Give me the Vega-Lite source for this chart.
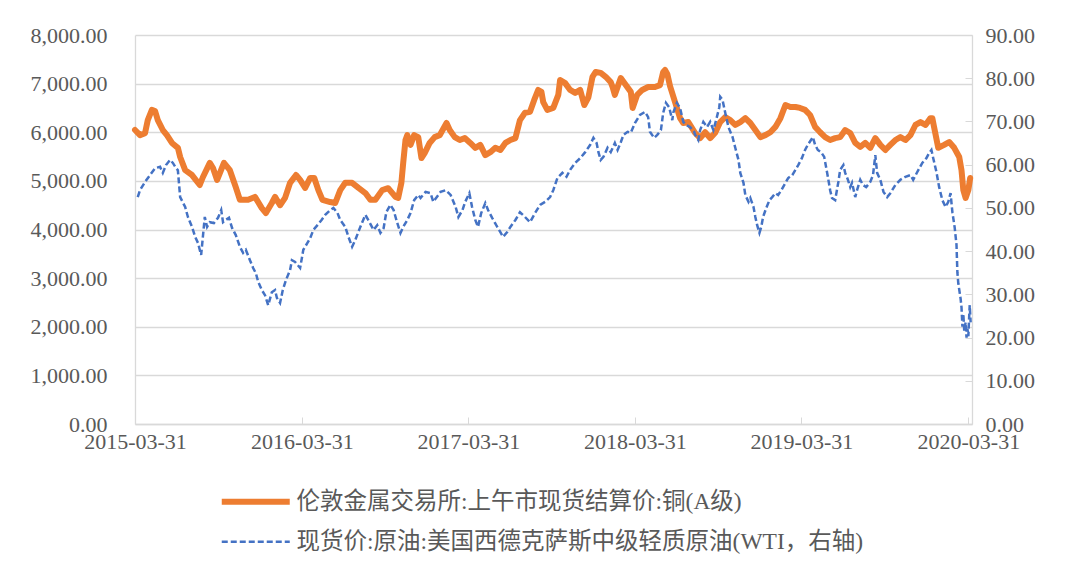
{
  "$schema": "https://vega.github.io/schema/vega-lite/v6.json",
  "width": 837,
  "height": 389,
  "autosize": {"type": "none"},
  "padding": {"left": 135, "top": 35, "right": 108, "bottom": 152},
  "background": "white",
  "config": {
    "view": {"stroke": null},
    "axis": {
      "labelFont": "Liberation Serif",
      "labelFontSize": 22,
      "labelColor": "#595959",
      "domainColor": "#d9d9d9",
      "tickColor": "#d9d9d9",
      "gridColor": "#d9d9d9",
      "domainWidth": 1.3,
      "title": null
    }
  },
  "datasets": {
    "copper": [
      {"d":"2015-03-31","v":6046},{"d":"2015-04-11","v":5940},{"d":"2015-04-22","v":5980},{"d":"2015-04-28","v":6250},
      {"d":"2015-05-07","v":6460},{"d":"2015-05-14","v":6437},{"d":"2015-05-20","v":6250},{"d":"2015-05-31","v":6046},
      {"d":"2015-06-09","v":5940},{"d":"2015-06-20","v":5780},{"d":"2015-07-03","v":5680},{"d":"2015-07-08","v":5490},
      {"d":"2015-07-19","v":5220},{"d":"2015-08-03","v":5120},{"d":"2015-08-20","v":4915},{"d":"2015-08-27","v":5080},
      {"d":"2015-09-11","v":5370},{"d":"2015-09-18","v":5265},{"d":"2015-09-27","v":5020},{"d":"2015-10-03","v":5160},
      {"d":"2015-10-12","v":5370},{"d":"2015-10-25","v":5220},{"d":"2015-11-07","v":4870},{"d":"2015-11-16","v":4610},
      {"d":"2015-12-04","v":4610},{"d":"2015-12-19","v":4670},{"d":"2016-01-03","v":4440},{"d":"2016-01-12","v":4340},
      {"d":"2016-01-25","v":4545},{"d":"2016-02-01","v":4670},{"d":"2016-02-12","v":4500},{"d":"2016-02-23","v":4650},
      {"d":"2016-03-05","v":4960},{"d":"2016-03-18","v":5120},{"d":"2016-03-27","v":5020},{"d":"2016-04-07","v":4855},
      {"d":"2016-04-18","v":5060},{"d":"2016-04-27","v":5060},{"d":"2016-05-06","v":4810},{"d":"2016-05-15","v":4610},
      {"d":"2016-06-01","v":4565},{"d":"2016-06-12","v":4545},{"d":"2016-06-23","v":4810},{"d":"2016-07-04","v":4960},
      {"d":"2016-07-19","v":4960},{"d":"2016-08-02","v":4855},{"d":"2016-08-17","v":4750},{"d":"2016-08-28","v":4610},
      {"d":"2016-09-08","v":4610},{"d":"2016-09-23","v":4810},{"d":"2016-10-06","v":4850},{"d":"2016-10-22","v":4670},
      {"d":"2016-10-28","v":4650},{"d":"2016-11-04","v":4960},{"d":"2016-11-08","v":5370},{"d":"2016-11-13","v":5840},
      {"d":"2016-11-17","v":5940},{"d":"2016-11-24","v":5740},{"d":"2016-12-02","v":5940},{"d":"2016-12-11","v":5900},
      {"d":"2016-12-18","v":5470},{"d":"2016-12-25","v":5570},{"d":"2017-01-05","v":5780},{"d":"2017-01-16","v":5900},
      {"d":"2017-01-27","v":5940},{"d":"2017-02-11","v":6190},{"d":"2017-02-18","v":6046},{"d":"2017-03-01","v":5900},
      {"d":"2017-03-12","v":5840},{"d":"2017-03-23","v":5880},{"d":"2017-04-04","v":5780},{"d":"2017-04-15","v":5680},
      {"d":"2017-04-26","v":5740},{"d":"2017-05-07","v":5530},{"d":"2017-05-18","v":5590},{"d":"2017-05-29","v":5680},
      {"d":"2017-06-09","v":5635},{"d":"2017-06-20","v":5780},{"d":"2017-07-01","v":5840},{"d":"2017-07-12","v":5880},
      {"d":"2017-07-22","v":6250},{"d":"2017-08-02","v":6400},{"d":"2017-08-13","v":6420},{"d":"2017-08-22","v":6660},
      {"d":"2017-08-31","v":6870},{"d":"2017-09-07","v":6830},{"d":"2017-09-11","v":6620},{"d":"2017-09-20","v":6460},
      {"d":"2017-10-03","v":6500},{"d":"2017-10-14","v":6770},{"d":"2017-10-18","v":7075},{"d":"2017-10-29","v":7010},
      {"d":"2017-11-09","v":6870},{"d":"2017-11-20","v":6810},{"d":"2017-12-01","v":6870},{"d":"2017-12-10","v":6560},
      {"d":"2017-12-19","v":6720},{"d":"2017-12-28","v":7140},{"d":"2018-01-04","v":7240},{"d":"2018-01-15","v":7220},
      {"d":"2018-01-26","v":7140},{"d":"2018-02-06","v":7030},{"d":"2018-02-10","v":6930},{"d":"2018-02-15","v":6770},
      {"d":"2018-02-21","v":6930},{"d":"2018-02-28","v":7115},{"d":"2018-03-11","v":6970},{"d":"2018-03-22","v":6830},
      {"d":"2018-03-26","v":6500},{"d":"2018-04-05","v":6770},{"d":"2018-04-16","v":6870},{"d":"2018-04-29","v":6930},
      {"d":"2018-05-14","v":6930},{"d":"2018-05-25","v":6970},{"d":"2018-06-01","v":7240},{"d":"2018-06-05","v":7280},
      {"d":"2018-06-10","v":7200},{"d":"2018-06-16","v":6950},{"d":"2018-06-27","v":6620},{"d":"2018-07-08","v":6290},
      {"d":"2018-07-15","v":6190},{"d":"2018-07-26","v":6210},{"d":"2018-08-10","v":5985},{"d":"2018-08-21","v":5880},
      {"d":"2018-09-01","v":6000},{"d":"2018-09-12","v":5880},{"d":"2018-09-23","v":5990},{"d":"2018-10-04","v":6210},
      {"d":"2018-10-15","v":6310},{"d":"2018-10-26","v":6250},{"d":"2018-11-06","v":6150},{"d":"2018-11-17","v":6210},
      {"d":"2018-11-28","v":6290},{"d":"2018-12-09","v":6190},{"d":"2018-12-20","v":6046},{"d":"2018-12-31","v":5900},
      {"d":"2019-01-11","v":5940},{"d":"2019-01-22","v":6000},{"d":"2019-02-02","v":6110},{"d":"2019-02-13","v":6290},
      {"d":"2019-02-24","v":6560},{"d":"2019-03-07","v":6520},{"d":"2019-03-18","v":6520},{"d":"2019-03-28","v":6500},
      {"d":"2019-04-08","v":6460},{"d":"2019-04-19","v":6355},{"d":"2019-04-30","v":6110},{"d":"2019-05-11","v":6000},
      {"d":"2019-05-22","v":5900},{"d":"2019-06-02","v":5840},{"d":"2019-06-13","v":5880},{"d":"2019-06-24","v":5900},
      {"d":"2019-07-05","v":6046},{"d":"2019-07-16","v":5985},{"d":"2019-07-27","v":5780},{"d":"2019-08-07","v":5700},
      {"d":"2019-08-18","v":5780},{"d":"2019-08-29","v":5680},{"d":"2019-09-09","v":5880},{"d":"2019-09-20","v":5740},
      {"d":"2019-10-01","v":5635},{"d":"2019-10-12","v":5740},{"d":"2019-10-23","v":5840},{"d":"2019-11-03","v":5900},
      {"d":"2019-11-14","v":5840},{"d":"2019-11-25","v":5940},{"d":"2019-12-06","v":6150},{"d":"2019-12-17","v":6210},
      {"d":"2019-12-28","v":6150},{"d":"2020-01-08","v":6290},{"d":"2020-01-12","v":6290},{"d":"2020-01-16","v":6100},
      {"d":"2020-01-25","v":5680},{"d":"2020-02-07","v":5740},{"d":"2020-02-18","v":5800},{"d":"2020-02-29","v":5680},
      {"d":"2020-03-11","v":5490},{"d":"2020-03-16","v":5220},{"d":"2020-03-20","v":4810},{"d":"2020-03-25","v":4650},
      {"d":"2020-03-31","v":4810},{"d":"2020-04-04","v":5060}
    ],
    "wti": [
      {"d":"2015-04-06","v":52.5},{"d":"2015-04-11","v":54.1},{"d":"2015-04-22","v":56.0},{"d":"2015-05-03","v":57.6},
      {"d":"2015-05-14","v":59.2},{"d":"2015-05-25","v":59.5},{"d":"2015-05-31","v":58.1},{"d":"2015-06-07","v":59.9},
      {"d":"2015-06-16","v":61.1},{"d":"2015-06-22","v":60.4},{"d":"2015-06-29","v":59.2},{"d":"2015-07-03","v":58.7},
      {"d":"2015-07-08","v":52.5},{"d":"2015-07-19","v":50.2},{"d":"2015-07-25","v":47.9},{"d":"2015-08-03","v":45.6},
      {"d":"2015-08-10","v":43.3},{"d":"2015-08-16","v":41.9},{"d":"2015-08-23","v":39.1},{"d":"2015-08-31","v":47.9},
      {"d":"2015-09-05","v":45.6},{"d":"2015-09-11","v":46.7},{"d":"2015-09-20","v":46.5},{"d":"2015-09-29","v":47.7},
      {"d":"2015-10-06","v":49.5},{"d":"2015-10-10","v":46.7},{"d":"2015-10-16","v":47.2},{"d":"2015-10-23","v":47.7},
      {"d":"2015-10-30","v":45.3},{"d":"2015-11-07","v":43.7},{"d":"2015-11-16","v":41.0},{"d":"2015-11-23","v":39.6},
      {"d":"2015-11-29","v":40.3},{"d":"2015-12-08","v":37.9},{"d":"2015-12-15","v":36.1},{"d":"2015-12-21","v":34.9},
      {"d":"2015-12-26","v":32.9},{"d":"2016-01-03","v":31.0},{"d":"2016-01-10","v":29.8},{"d":"2016-01-17","v":27.5},
      {"d":"2016-01-25","v":30.5},{"d":"2016-02-01","v":31.0},{"d":"2016-02-05","v":29.2},{"d":"2016-02-12","v":28.0},
      {"d":"2016-02-18","v":31.0},{"d":"2016-02-25","v":33.3},{"d":"2016-03-05","v":35.6},{"d":"2016-03-09","v":37.9},
      {"d":"2016-03-16","v":37.5},{"d":"2016-03-27","v":36.1},{"d":"2016-04-03","v":40.3},{"d":"2016-04-12","v":41.9},
      {"d":"2016-04-18","v":43.0},{"d":"2016-04-25","v":44.9},{"d":"2016-05-04","v":46.0},{"d":"2016-05-13","v":47.2},
      {"d":"2016-05-21","v":48.4},{"d":"2016-06-01","v":49.5},{"d":"2016-06-08","v":50.0},{"d":"2016-06-17","v":48.8},
      {"d":"2016-06-23","v":47.2},{"d":"2016-07-04","v":45.6},{"d":"2016-07-11","v":43.3},{"d":"2016-07-19","v":41.0},
      {"d":"2016-07-26","v":42.6},{"d":"2016-08-06","v":45.6},{"d":"2016-08-17","v":48.4},{"d":"2016-08-26","v":46.7},
      {"d":"2016-09-04","v":44.9},{"d":"2016-09-12","v":46.0},{"d":"2016-09-19","v":44.2},{"d":"2016-09-26","v":45.3},
      {"d":"2016-10-02","v":49.0},{"d":"2016-10-11","v":50.7},{"d":"2016-10-18","v":49.5},{"d":"2016-10-24","v":47.2},
      {"d":"2016-11-02","v":44.2},{"d":"2016-11-08","v":45.6},{"d":"2016-11-17","v":47.2},{"d":"2016-11-24","v":48.8},
      {"d":"2016-12-02","v":51.8},{"d":"2016-12-11","v":53.0},{"d":"2016-12-16","v":52.3},{"d":"2016-12-27","v":53.7},
      {"d":"2017-01-07","v":53.4},{"d":"2017-01-13","v":51.4},{"d":"2017-01-29","v":53.7},{"d":"2017-02-09","v":54.1},
      {"d":"2017-02-20","v":53.0},{"d":"2017-03-03","v":50.2},{"d":"2017-03-09","v":47.9},{"d":"2017-03-18","v":49.5},
      {"d":"2017-03-24","v":51.4},{"d":"2017-04-02","v":53.4},{"d":"2017-04-08","v":50.2},{"d":"2017-04-15","v":47.2},
      {"d":"2017-04-21","v":45.6},{"d":"2017-04-28","v":48.8},{"d":"2017-05-07","v":51.1},{"d":"2017-05-13","v":49.5},
      {"d":"2017-05-22","v":47.7},{"d":"2017-05-31","v":46.0},{"d":"2017-06-09","v":44.4},{"d":"2017-06-15","v":43.3},
      {"d":"2017-06-24","v":44.4},{"d":"2017-07-01","v":45.6},{"d":"2017-07-12","v":47.2},{"d":"2017-07-22","v":49.0},
      {"d":"2017-08-02","v":47.9},{"d":"2017-08-13","v":46.7},{"d":"2017-08-24","v":48.8},{"d":"2017-09-04","v":50.7},
      {"d":"2017-09-15","v":51.4},{"d":"2017-09-26","v":52.5},{"d":"2017-10-03","v":54.1},{"d":"2017-10-12","v":56.9},
      {"d":"2017-10-23","v":58.1},{"d":"2017-11-01","v":57.2},{"d":"2017-11-09","v":58.8},{"d":"2017-11-20","v":60.4},
      {"d":"2017-12-01","v":61.5},{"d":"2017-12-12","v":62.9},{"d":"2017-12-23","v":64.6},{"d":"2017-12-30","v":66.2},
      {"d":"2018-01-06","v":65.0},{"d":"2018-01-10","v":62.9},{"d":"2018-01-15","v":61.1},{"d":"2018-01-21","v":61.8},
      {"d":"2018-01-30","v":63.9},{"d":"2018-02-06","v":62.9},{"d":"2018-02-15","v":65.0},{"d":"2018-02-21","v":63.4},
      {"d":"2018-02-28","v":65.2},{"d":"2018-03-06","v":66.9},{"d":"2018-03-15","v":67.6},{"d":"2018-03-22","v":67.4},
      {"d":"2018-03-31","v":69.6},{"d":"2018-04-11","v":71.5},{"d":"2018-04-22","v":72.2},{"d":"2018-04-29","v":71.0},
      {"d":"2018-05-03","v":67.6},{"d":"2018-05-12","v":66.2},{"d":"2018-05-19","v":66.9},{"d":"2018-05-27","v":68.0},
      {"d":"2018-06-01","v":72.0},{"d":"2018-06-07","v":74.3},{"d":"2018-06-14","v":73.3},{"d":"2018-06-21","v":70.3},
      {"d":"2018-06-23","v":72.0},{"d":"2018-07-01","v":74.3},{"d":"2018-07-08","v":73.1},{"d":"2018-07-15","v":69.9},
      {"d":"2018-07-21","v":69.2},{"d":"2018-07-30","v":68.7},{"d":"2018-08-08","v":67.6},{"d":"2018-08-10","v":66.9},
      {"d":"2018-08-17","v":65.7},{"d":"2018-08-21","v":68.0},{"d":"2018-08-28","v":69.9},{"d":"2018-09-05","v":68.7},
      {"d":"2018-09-12","v":69.9},{"d":"2018-09-19","v":68.0},{"d":"2018-09-25","v":70.3},{"d":"2018-10-02","v":73.3},
      {"d":"2018-10-04","v":75.7},{"d":"2018-10-09","v":75.0},{"d":"2018-10-15","v":72.0},{"d":"2018-10-22","v":68.7},
      {"d":"2018-10-31","v":66.4},{"d":"2018-11-06","v":63.9},{"d":"2018-11-13","v":61.1},{"d":"2018-11-17","v":58.1},
      {"d":"2018-11-24","v":55.8},{"d":"2018-11-28","v":53.0},{"d":"2018-12-05","v":51.4},{"d":"2018-12-09","v":52.3},
      {"d":"2018-12-16","v":50.2},{"d":"2018-12-20","v":47.9},{"d":"2018-12-24","v":46.0},{"d":"2018-12-29","v":44.2},
      {"d":"2019-01-02","v":45.6},{"d":"2019-01-06","v":47.9},{"d":"2019-01-13","v":50.0},{"d":"2019-01-20","v":51.8},
      {"d":"2019-01-26","v":52.5},{"d":"2019-02-02","v":53.4},{"d":"2019-02-08","v":53.0},{"d":"2019-02-15","v":54.1},
      {"d":"2019-02-24","v":55.8},{"d":"2019-03-02","v":56.9},{"d":"2019-03-11","v":57.6},{"d":"2019-03-18","v":58.8},
      {"d":"2019-03-24","v":59.9},{"d":"2019-04-01","v":61.5},{"d":"2019-04-08","v":63.4},{"d":"2019-04-14","v":64.6},
      {"d":"2019-04-21","v":65.7},{"d":"2019-04-25","v":66.4},{"d":"2019-04-30","v":64.6},{"d":"2019-05-06","v":63.4},
      {"d":"2019-05-13","v":62.9},{"d":"2019-05-20","v":61.8},{"d":"2019-05-24","v":59.5},{"d":"2019-05-28","v":57.2},
      {"d":"2019-06-02","v":54.1},{"d":"2019-06-06","v":52.3},{"d":"2019-06-13","v":51.8},{"d":"2019-06-20","v":56.0},
      {"d":"2019-06-24","v":58.8},{"d":"2019-07-01","v":59.9},{"d":"2019-07-05","v":58.1},{"d":"2019-07-11","v":56.5},
      {"d":"2019-07-16","v":54.8},{"d":"2019-07-20","v":55.8},{"d":"2019-07-27","v":52.5},{"d":"2019-07-31","v":54.1},
      {"d":"2019-08-07","v":56.5},{"d":"2019-08-13","v":55.3},{"d":"2019-08-20","v":54.8},{"d":"2019-08-29","v":56.0},
      {"d":"2019-09-04","v":57.6},{"d":"2019-09-09","v":62.2},{"d":"2019-09-13","v":58.1},{"d":"2019-09-20","v":56.5},
      {"d":"2019-09-27","v":53.7},{"d":"2019-10-05","v":52.5},{"d":"2019-10-12","v":53.4},{"d":"2019-10-23","v":55.3},
      {"d":"2019-11-03","v":56.5},{"d":"2019-11-14","v":57.2},{"d":"2019-11-25","v":57.6},{"d":"2019-12-01","v":56.5},
      {"d":"2019-12-10","v":58.3},{"d":"2019-12-21","v":60.4},{"d":"2019-12-30","v":61.5},{"d":"2020-01-05","v":62.7},
      {"d":"2020-01-10","v":63.4},{"d":"2020-01-14","v":61.5},{"d":"2020-01-21","v":58.3},{"d":"2020-01-27","v":54.8},
      {"d":"2020-02-03","v":51.8},{"d":"2020-02-10","v":50.2},{"d":"2020-02-16","v":51.4},{"d":"2020-02-21","v":53.4},
      {"d":"2020-02-25","v":49.0},{"d":"2020-03-01","v":45.5},{"d":"2020-03-05","v":41.5},{"d":"2020-03-07","v":35.0},
      {"d":"2020-03-09","v":32.5},{"d":"2020-03-14","v":29.0},{"d":"2020-03-16","v":27.0},{"d":"2020-03-18","v":22.5},
      {"d":"2020-03-20","v":25.5},{"d":"2020-03-22","v":21.5},{"d":"2020-03-25","v":23.5},{"d":"2020-03-27","v":20.0},
      {"d":"2020-03-29","v":22.0},{"d":"2020-03-31","v":20.3},{"d":"2020-04-02","v":25.3},{"d":"2020-04-03","v":27.5},
      {"d":"2020-04-05","v":23.5}
    ]
  },
  "layer": [
    {
      "data": {"name": "copper"},
      "mark": {"type": "line", "strokeWidth": 6, "strokeJoin": "round", "strokeCap": "round"},
      "encoding": {
        "x": {
          "field": "d", "type": "temporal",
          "scale": {"type": "utc", "domain": [{"year": 2015, "month": 3, "date": 31, "utc": true}, {"year": 2020, "month": 4, "date": 8, "utc": true}]},
          "axis": {
            "values": [
              {"year": 2015, "month": 3, "date": 31, "utc": true},
              {"year": 2016, "month": 3, "date": 31, "utc": true},
              {"year": 2017, "month": 3, "date": 31, "utc": true},
              {"year": 2018, "month": 3, "date": 31, "utc": true},
              {"year": 2019, "month": 3, "date": 31, "utc": true},
              {"year": 2020, "month": 3, "date": 31, "utc": true}
            ],
            "labelExpr": "utcFormat(datum.value, '%Y-%m-%d')",
            "grid": false, "tickSize": -7, "labelPadding": 14,
            "labelFlush": false, "labelOverlap": false
          }
        },
        "y": {
          "field": "v", "type": "quantitative",
          "scale": {"domain": [0, 8000], "nice": false},
          "axis": {"values": [0,1000,2000,3000,4000,5000,6000,7000,8000], "format": ",.2f", "ticks": false, "labelPadding": 28, "grid": true, "gridWidth": 1.3}
        },
        "color": {
          "datum": "伦敦金属交易所:上午市现货结算价:铜(A级)",
          "scale": {"domain": ["伦敦金属交易所:上午市现货结算价:铜(A级)", "现货价:原油:美国西德克萨斯中级轻质原油(WTI，右轴)"], "range": ["#ED7D31", "#4472C4"]},
          "legend": {
            "orient": "none", "legendX": 109, "legendY": 455, "direction": "vertical", "title": null,
            "symbolType": "stroke", "symbolSize": 4624, "symbolStrokeWidth": 5,
            "labelFont": "Liberation Serif, Noto Sans CJK SC", "labelFontSize": 23.5, "labelColor": "#595959",
            "labelLimit": 900, "labelOffset": 29, "rowPadding": 15, "padding": 0,
            "encode": {"symbols": {"update": {
              "strokeWidth": {"signal": "datum.index === 0 ? 6 : 2.5"},
              "strokeDash": {"signal": "datum.index === 0 ? [1,0] : [6,3]"}
            }}}
          }
        }
      }
    },
    {
      "data": {"name": "wti"},
      "mark": {"type": "line", "strokeWidth": 2.5, "strokeDash": [6, 3]},
      "encoding": {
        "x": {"field": "d", "type": "temporal"},
        "y": {
          "field": "v", "type": "quantitative",
          "scale": {"domain": [0, 90], "nice": false},
          "axis": {"orient": "right", "values": [0,10,20,30,40,50,60,70,80,90], "format": ".2f", "tickSize": -7, "labelPadding": 20, "grid": false}
        },
        "color": {"datum": "现货价:原油:美国西德克萨斯中级轻质原油(WTI，右轴)"}
      }
    }
  ],
  "resolve": {"scale": {"y": "independent"}}
}
